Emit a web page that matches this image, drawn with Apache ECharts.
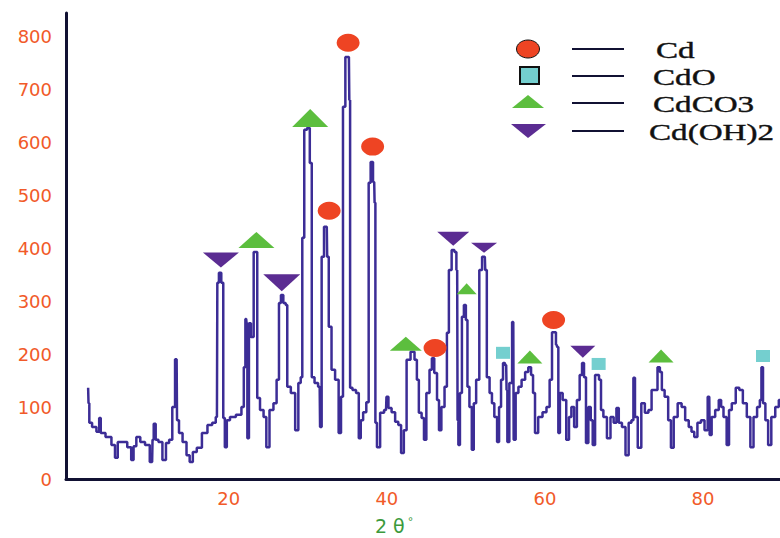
<!DOCTYPE html>
<html>
<head>
<meta charset="utf-8">
<script src="https://cdn.jsdelivr.net/npm/echarts@6/dist/echarts.min.js"></script>
<style>html,body{margin:0;padding:0;background:#fff}#c{width:780px;height:538px}</style>
</head>
<body>
<div id="c"></div>
<script>
// ---- data (2θ in degrees, intensity in counts) ----
const twoTheta = [2.2,2.3,2.4,3.0,3.5,3.7,3.9,4.9,5.4,5.8,6.1,6.8,7.5,7.8,8.1,8.5,9.1,9.7,10.3,10.4,10.6,10.9,11.3,11.9,12.2,12.7,13.0,13.4,13.5,13.9,14.4,14.9,15.2,15.7,16.2,17.0,17.6,18.2,18.5,18.6,18.9,19.2,19.4,19.6,19.9,20.4,21.4,21.8,22.0,22.2,22.3,22.4,22.7,22.9,23.0,23.3,23.5,23.7,24.2,24.6,24.9,25.4,25.9,26.2,26.5,26.7,27.1,27.3,27.5,28.2,28.6,29.0,29.2,29.4,29.7,30.1,30.4,30.6,31.1,31.5,31.6,31.9,32.2,32.4,32.5,32.8,33.2,33.7,34.1,34.3,34.6,34.9,35.2,35.3,35.4,35.9,36.3,36.6,36.8,37.2,37.6,37.8,38.1,38.4,38.5,38.6,38.9,39.4,39.9,40.0,40.4,40.8,41.3,41.6,42.0,42.3,42.7,43.3,43.7,43.9,44.2,44.6,44.8,45.2,45.6,45.8,46.2,46.5,46.7,47.1,47.5,47.7,48.0,48.4,48.7,48.9,49.0,49.1,49.4,49.6,49.9,50.1,50.3,50.6,50.9,51.1,51.5,51.9,52.2,52.4,52.5,52.8,53.2,53.4,53.8,54.1,54.3,54.6,54.8,55.1,55.2,55.3,55.7,56.0,56.1,56.5,56.8,57.3,57.7,58.1,58.4,58.6,58.9,59.4,60.0,60.4,60.8,61.0,61.3,61.5,61.6,61.8,62.0,62.5,62.9,63.2,63.5,63.9,64.2,64.6,64.8,65.1,65.3,65.7,65.9,66.2,66.5,66.7,67.0,67.2,67.6,68.1,68.5,68.9,69.2,69.5,70.0,70.4,70.8,71.1,71.3,71.5,72.0,72.4,72.9,73.3,73.7,74.1,74.4,74.7,74.9,75.4,75.8,76.1,76.5,77.1,77.5,78.0,78.4,78.7,79.1,79.5,80.0,80.4,80.8,80.9,81.3,81.8,82.2,82.4,82.8,83.2,83.4,83.9,84.4,84.8,85.3,85.8,86.2,86.6,87.1,87.3,87.5,87.7,88.1,88.4,88.9,89.4,89.8];
const intensity = [138,109,72,64,55,81,53,45,30,6,36,36,26,2,28,45,36,30,-2,40,70,40,36,2,34,40,102,192,77,53,36,11,-2,17,25,53,68,72,83,336,355,336,81,26,77,83,87,102,177,268,260,43,260,234,234,394,394,119,96,83,26,96,109,153,298,313,298,294,140,128,58,147,158,421,625,628,562,158,147,140,64,385,442,442,385,253,172,153,53,121,668,762,762,681,138,134,128,43,77,92,111,525,564,526,487,72,26,91,96,121,100,92,74,68,15,58,191,206,191,153,91,81,40,128,172,194,166,115,58,102,140,242,360,398,394,360,77,30,128,272,294,266,140,102,21,109,153,360,385,385,360,158,128,109,83,36,102,153,185,181,134,36,147,262,40,128,140,153,168,177,162,128,53,83,92,102,153,243,243,219,215,53,128,115,40,83,102,64,115,162,185,158,34,102,77,30,162,162,153,96,83,43,83,72,100,72,64,11,72,77,157,83,25,109,91,96,134,134,177,168,134,121,77,25,83,109,102,77,64,55,45,72,77,58,121,49,83,96,115,102,83,30,96,109,138,134,109,83,26,83,102,115,177,109,77,30,83,102,115];

// phase marker positions (2θ, intensity)
const cdTheta = [35.1, 32.7, 38.2, 46.1, 61.1];
const cdInt   = [789, 472, 593, 213, 266];
const cdoTheta = [54.7, 66.8, 87.6];
const cdoInt   = [204, 183, 198];
const cdco3Theta = [30.3, 23.5, 42.4, 50.1, 58.1, 74.7];
const cdco3Int   = [647, 417, 221, 325, 196, 198];
const cdoh2Theta = [19.0, 26.7, 48.4, 52.3, 64.8];
const cdoh2Int   = [379, 336, 419, 402, 206];

const phaseNames = ['Cd', 'CdO', 'CdCO3', 'Cd(OH)2'];
const xTicks = [20, 40, 60, 80];
const yTicks = [100, 200, 300, 400, 500, 600, 700, 800];
const xTitle = '2 θ';

// ---- styling ----
const yMin = -34, yMax = 845, xMin = -0.6, xMax = 89.75;
const labelColor = '#f15a29';
const lineColor = '#3c2d96';
const colors = { cd: '#ee4423', cdo: '#74cfcf', cdco3: '#5cbe3e', cdoh2: '#5b2c92' };
const triSizes = [[36,18],[36,16],[32,14],[20,11],[25,13],[25,13]];
const invSizes = [[36,15],[37,17],[32,14],[26,10],[25,12]];

const pairs = (xs, ys) => xs.map((x, i) => [x, ys[i]]);

const chart = echarts.init(document.getElementById('c'), null, { renderer: 'svg' });

const legendRows = [
  { y: 49, name: phaseNames[0], tx: 656 },
  { y: 76, name: phaseNames[1], tx: 653 },
  { y: 103, name: phaseNames[2], tx: 653 },
  { y: 131, name: phaseNames[3], tx: 649 }
];
const legendGraphics = [];
legendRows.forEach((r) => {
  legendGraphics.push({ type: 'line', shape: { x1: 572, y1: r.y, x2: 624, y2: r.y }, style: { stroke: '#111133', lineWidth: 2 } });
  legendGraphics.push({ type: 'text', x: r.tx, y: r.y + 1, scaleX: 1.38, style: { text: r.name, font: '24px "Liberation Serif", serif', fill: '#111', stroke: '#111', lineWidth: 0.4, verticalAlign: 'middle' } });
});
legendGraphics.push({ type: 'ellipse', shape: { cx: 528, cy: 49, rx: 11.5, ry: 9 }, style: { fill: colors.cd, stroke: '#111', lineWidth: 1 } });
legendGraphics.push({ type: 'rect', shape: { x: 520, y: 67, width: 19, height: 17 }, style: { fill: colors.cdo, stroke: '#111', lineWidth: 2 } });
legendGraphics.push({ type: 'polygon', shape: { points: [[528, 95], [544, 108], [512, 108]] }, style: { fill: colors.cdco3 } });
legendGraphics.push({ type: 'polygon', shape: { points: [[511, 124], [546, 124], [528, 138]] }, style: { fill: colors.cdoh2 } });

const option = {
  animation: false,
  backgroundColor: '#fff',
  grid: { left: 66, right: 0, top: 13, bottom: 59, containLabel: false, outerBoundsMode: 'none' },
  xAxis: {
    type: 'value', min: xMin, max: xMax,
    axisLine: { show: true, onZero: false, lineStyle: { color: '#111133', width: 3 } },
    axisTick: { show: false },
    splitLine: { show: false },
    axisLabel: { customValues: xTicks, color: labelColor, fontFamily: 'DejaVu Sans', fontSize: 18, margin: 10 },
    name: '{a|' + xTitle + '}{b|°}',
    nameLocation: 'middle', nameGap: 37,
    nameTextStyle: {
      padding: [0, 58, 0, 0],
      rich: {
        a: { color: '#3c9a3c', fontFamily: 'DejaVu Sans', fontSize: 19 },
        b: { color: '#3c9a3c', fontFamily: 'DejaVu Sans', fontSize: 11, verticalAlign: 'top', padding: [0, 0, 6, 3] }
      }
    }
  },
  yAxis: {
    type: 'value', min: yMin, max: yMax,
    axisLine: { show: true, onZero: false, lineStyle: { color: '#111133', width: 3 } },
    axisTick: { show: false },
    splitLine: { show: false },
    axisLabel: {
      customValues: [yMin].concat(yTicks),
      formatter: (v) => (v === yMin ? '0' : String(v)),
      color: labelColor, fontFamily: 'DejaVu Sans', fontSize: 18, margin: 14
    }
  },
  series: [
    {
      type: 'line', data: pairs(twoTheta, intensity), step: 'middle', showSymbol: false, symbol: 'none',
      lineStyle: { color: lineColor, width: 2.5 }, z: 2
    },
    { name: phaseNames[0], type: 'scatter', data: pairs(cdTheta, cdInt), symbol: 'circle', symbolSize: [23, 18], itemStyle: { color: colors.cd, opacity: 1 }, z: 3 },
    { name: phaseNames[1], type: 'scatter', data: pairs(cdoTheta, cdoInt), symbol: 'rect', symbolSize: [14, 12], itemStyle: { color: colors.cdo, opacity: 1 }, z: 3 },
    { name: phaseNames[2], type: 'scatter', data: pairs(cdco3Theta, cdco3Int), symbol: 'triangle', symbolSize: (v, p) => triSizes[p.dataIndex], itemStyle: { color: colors.cdco3, opacity: 1 }, z: 3 },
    { name: phaseNames[3], type: 'scatter', data: pairs(cdoh2Theta, cdoh2Int), symbol: 'triangle', symbolRotate: 180, symbolSize: (v, p) => invSizes[p.dataIndex], itemStyle: { color: colors.cdoh2, opacity: 1 }, z: 3 }
  ],
  graphic: legendGraphics
};
chart.setOption(option);
</script>
</body>
</html>
